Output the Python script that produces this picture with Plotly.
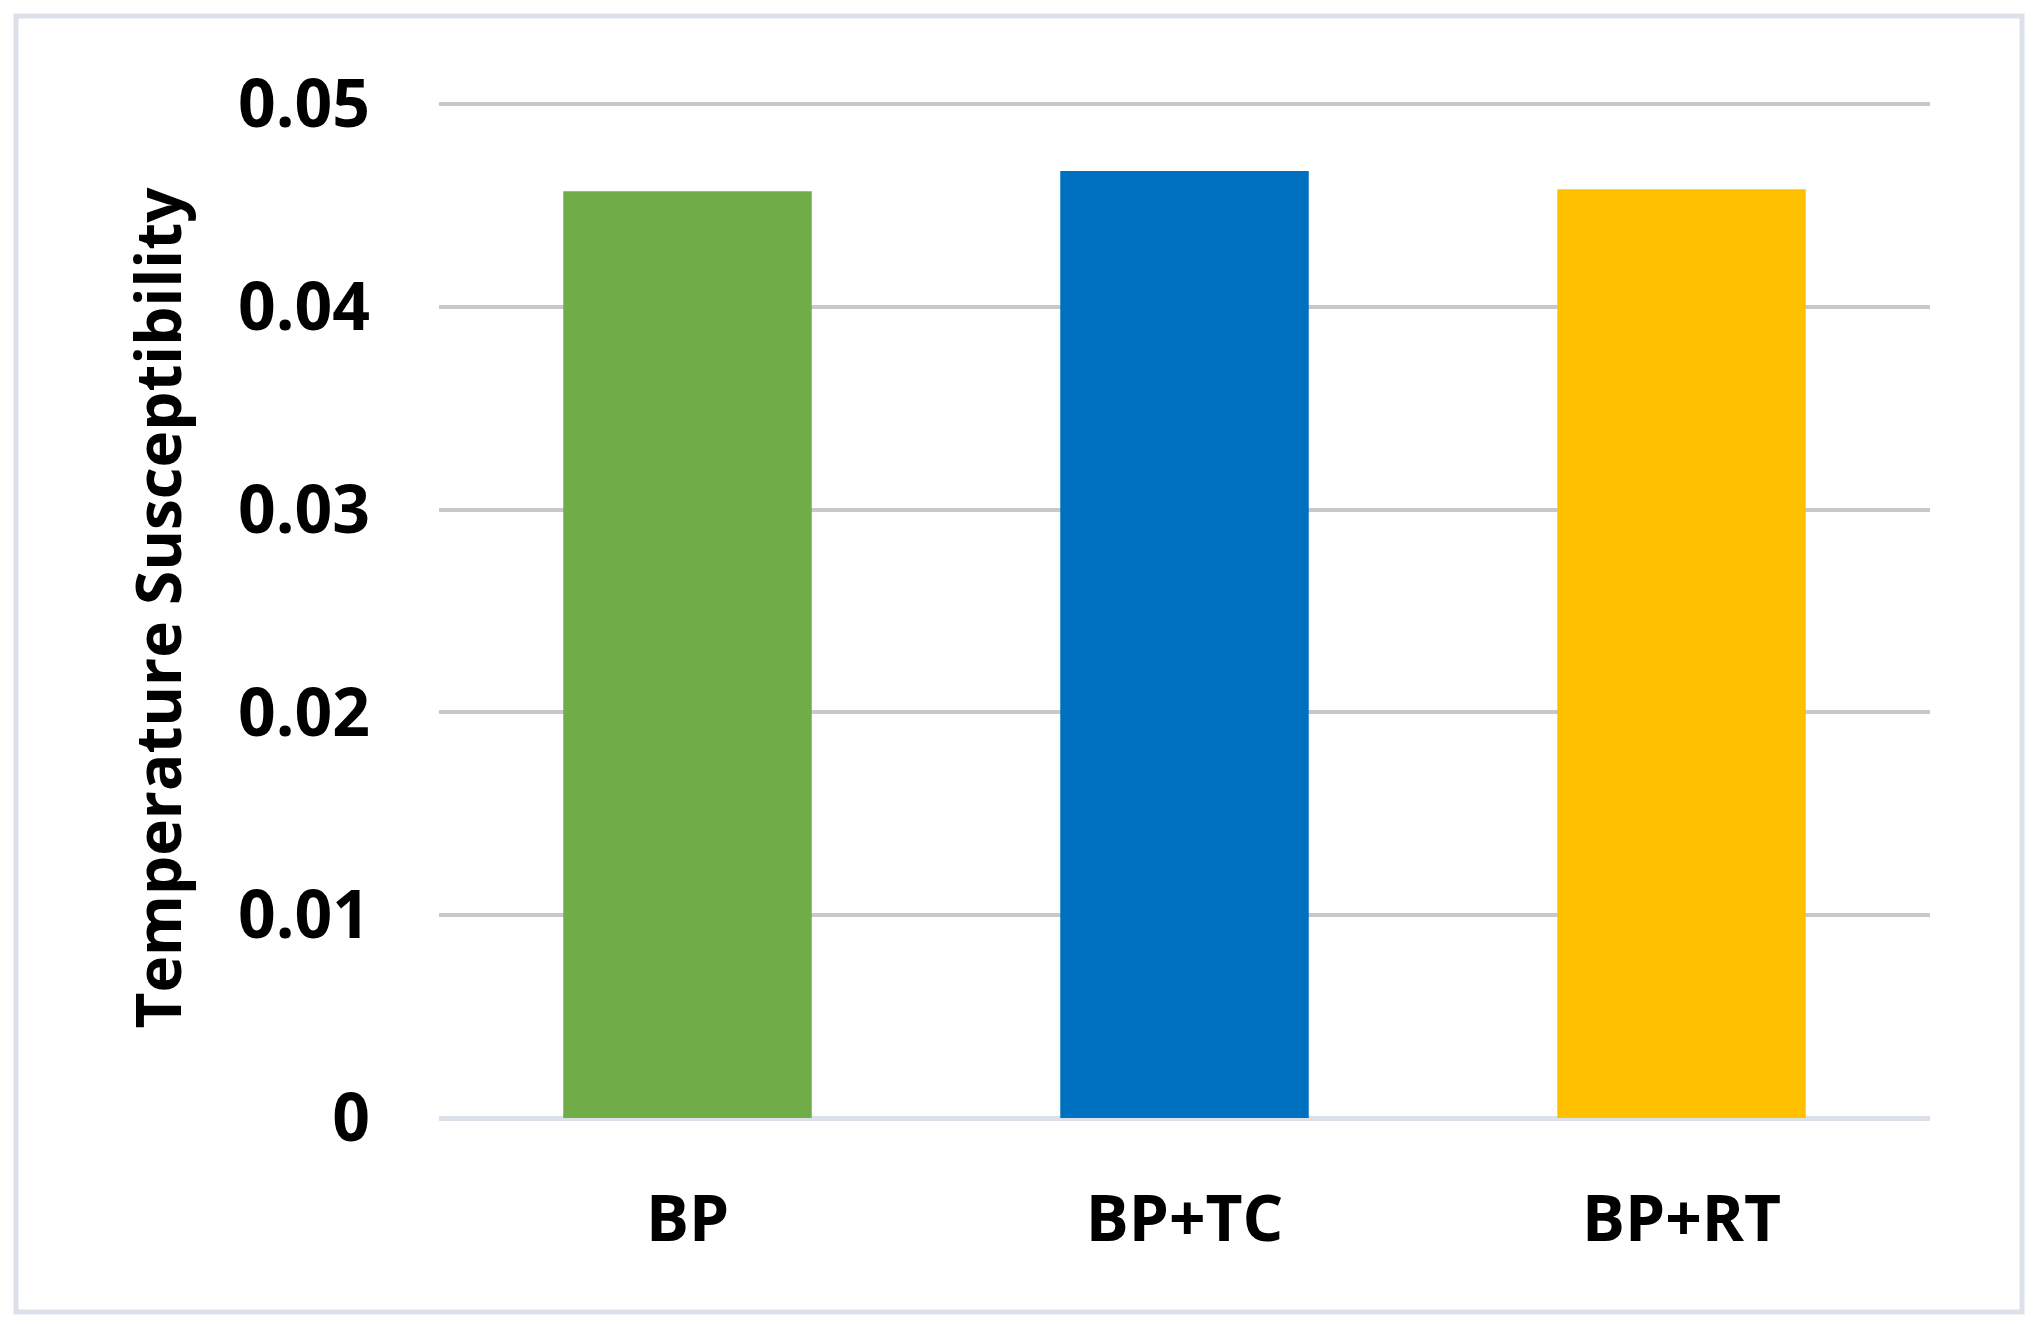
import plotly.graph_objects as go

categories = ['BP', 'BP+TC', 'BP+RT']
susceptibility = [0.0457, 0.0467, 0.0458]
bar_colors = ['#70AD47', '#0070C0', '#FFC000']
y_ticks = [0, 0.01, 0.02, 0.03, 0.04, 0.05]

# page body adds an 8px offset, so the figure is placed 8px up/left
W, H = 2038, 1324
OFF = 8
y_top = 0.0503                      # a little headroom so the 0.05 gridline is drawn
px_per_unit = 1014 / 0.05
pw = 1491
ph = round(y_top * px_per_unit)
L = 439 - OFF
T = 1118 - OFF - ph
R, B = W - L - pw, H - T - ph


def px_x(x):
    return (x - OFF - L) / pw


def px_y(y):
    return (T + ph - (y - OFF)) / ph


fig = go.Figure()
fig.add_trace(go.Bar(x=categories, y=susceptibility, marker_color=bar_colors,
                     marker_line_width=0, width=0.5))

font_family = 'Open Sans, DejaVu Sans, sans-serif'

fig.update_layout(
    width=W, height=H,
    margin=dict(l=L, r=R, t=T, b=B),
    paper_bgcolor='white',
    plot_bgcolor='white',
    showlegend=False,
    xaxis=dict(
        showgrid=False,
        showline=False,
        ticks='',
        ticklabelstandoff=58,
        tickfont=dict(family=font_family, size=64, color='black', weight='bold'),
    ),
    yaxis=dict(
        range=[0, y_top],
        tickvals=y_ticks,
        showgrid=True,
        gridcolor='#C8C8C8',
        gridwidth=4,
        zeroline=True,
        zerolinecolor='#DCE1E9',
        zerolinewidth=5,
        showline=False,
        ticks='',
        ticklabelstandoff=68,
        tickfont=dict(family=font_family, size=66, color='black', weight='bold'),
        title=dict(text='Temperature Susceptibility', standoff=36,
                   font=dict(family=font_family, size=62, color='black', weight='bold')),
    ),
    shapes=[dict(type='rect', xref='paper', yref='paper',
                 x0=px_x(16), x1=px_x(2022), y0=px_y(1312), y1=px_y(16),
                 line=dict(color='#DCE1E9', width=5), layer='below')],
)

fig.write_html('out.html')
